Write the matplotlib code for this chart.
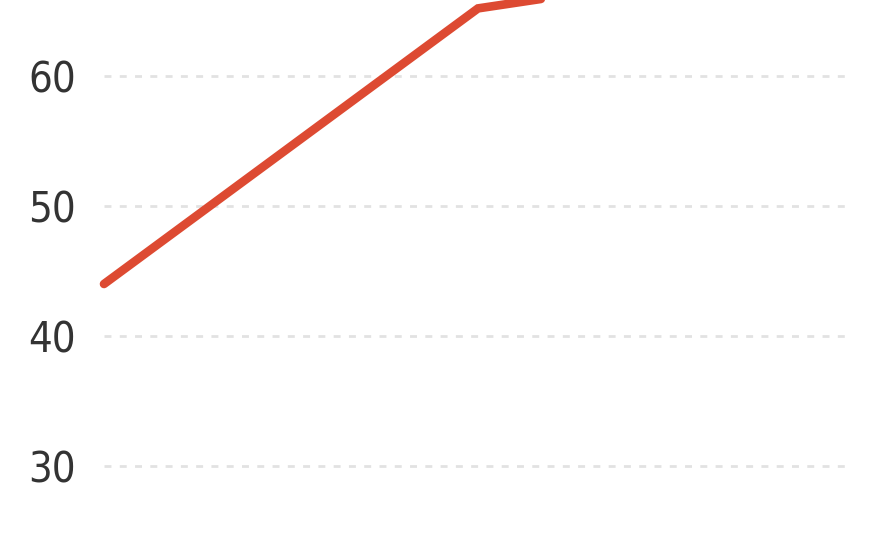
import matplotlib
matplotlib.use("Agg")
import matplotlib.pyplot as plt

# data
x_pos = [0, 1, 2]
values = [44.0, 65.2, 69.5]
y_ticks = [30, 40, 50, 60]
y_labels = ["30", "40", "50", "60"]

fig = plt.figure(figsize=(8.8, 5.42), dpi=100)
ax = fig.add_axes([104 / 880, 0, (852 - 104) / 880, 1])

# unclipped so the round cap at the start shows; the top runs off the figure
ax.plot(x_pos, values, color="#dd4a32", linewidth=6.2, solid_capstyle="round",
        solid_joinstyle="miter", zorder=3, clip_on=False)

ax.set_xlim(0, 2)
ax.set_ylim(30 - 76 / 13, 60 + 76 / 13)
ax.set_yticks(y_ticks)
ax.set_yticklabels(y_labels, family="DejaVu Sans", fontstretch="condensed",
                   fontsize=30, color="#333333")
ax.set_xticks([])
ax.tick_params(axis="y", length=0, pad=20)

for v in y_ticks:
    ax.axhline(v, color="#e2e2e2", linewidth=2, linestyle=(0, (2.5, 3)), zorder=1)

for s in ax.spines.values():
    s.set_visible(False)

fig.savefig("out.png", dpi=100)
